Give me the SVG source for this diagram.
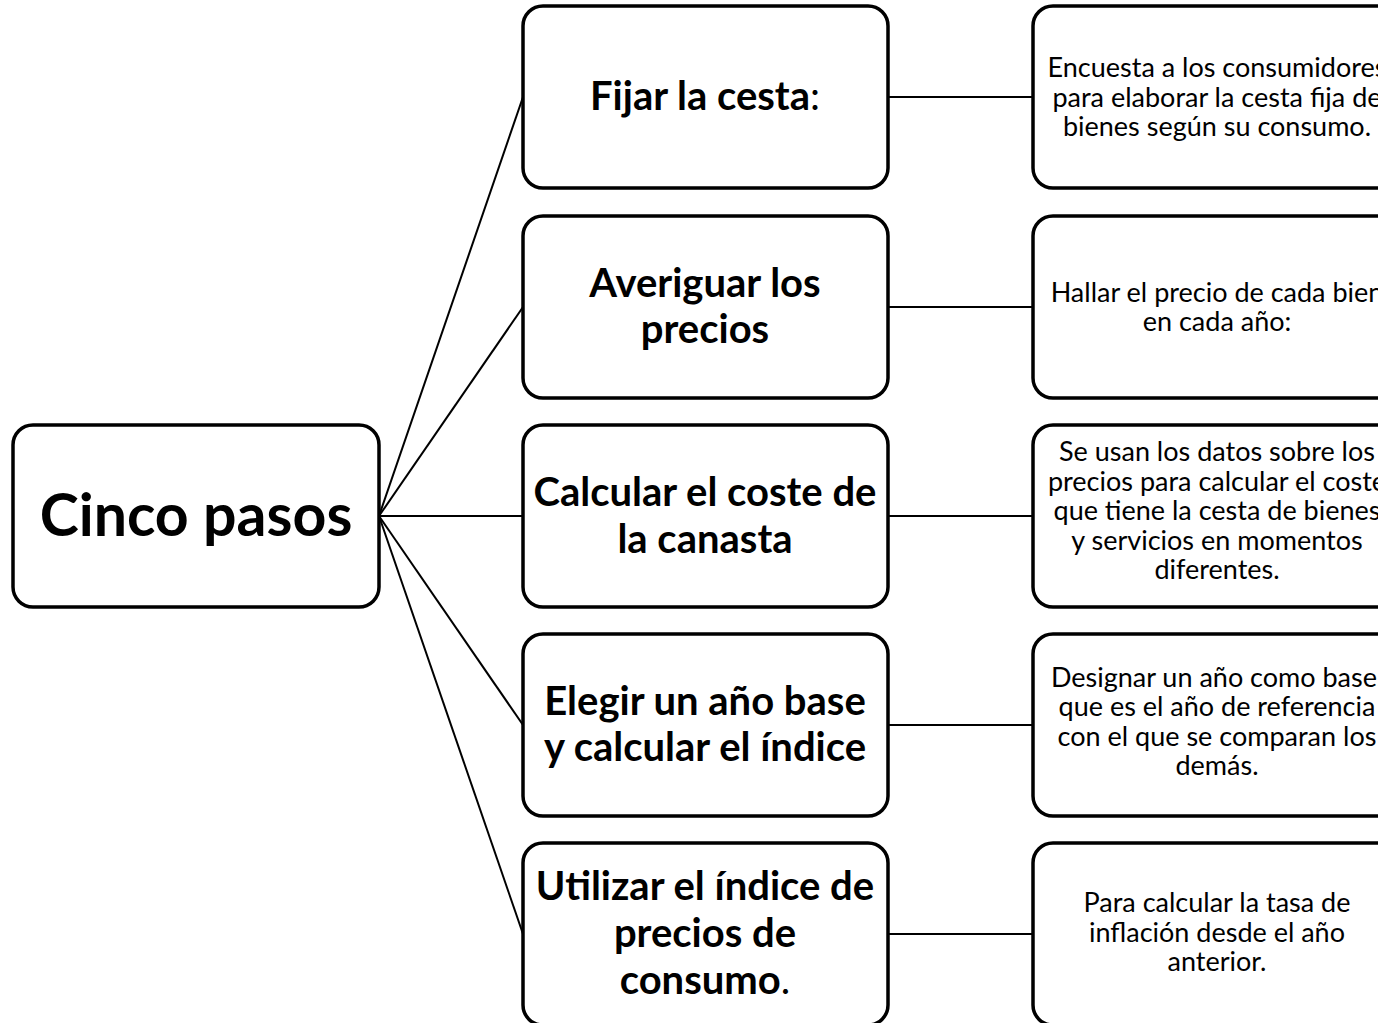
<svg xmlns="http://www.w3.org/2000/svg" width="1378" height="1023" viewBox="0 0 1378 1023">
<style>
.box{fill:#fff;stroke:#000;stroke-width:3.5}
.con{stroke:#000;stroke-width:2;fill:none}
.t{font-family:Lato,"Open Sans","Liberation Sans",sans-serif;text-anchor:middle;fill:#000}
.b{font-weight:bold;font-size:40px}
.r{font-size:27px}
.n{font-weight:normal}
</style>
<rect width="1378" height="1023" fill="#fff"/>
<g id="connectors">
<line class="con" x1="379" y1="516" x2="523" y2="97"/>
<line class="con" x1="379" y1="516" x2="523" y2="307"/>
<line class="con" x1="379" y1="516" x2="523" y2="516"/>
<line class="con" x1="379" y1="516" x2="523" y2="725"/>
<line class="con" x1="379" y1="516" x2="523" y2="934"/>
<line class="con" x1="888" y1="97" x2="1033" y2="97"/>
<line class="con" x1="888" y1="307" x2="1033" y2="307"/>
<line class="con" x1="888" y1="516" x2="1033" y2="516"/>
<line class="con" x1="888" y1="725" x2="1033" y2="725"/>
<line class="con" x1="888" y1="934" x2="1033" y2="934"/>
</g>
<g id="root">
<rect class="box" x="13" y="425" width="366" height="182" rx="20"/>
<text class="t" x="196" y="536" font-size="59" font-weight="bold">Cinco pasos</text>
</g>
<g id="step1">
<rect class="box" x="523" y="6" width="365" height="182" rx="20"/>
<text class="t b" x="705" y="110">Fijar la cesta<tspan class="n">:</tspan></text>
</g>
<g id="step2">
<rect class="box" x="523" y="216" width="365" height="182" rx="20"/>
<text class="t b" x="705" y="297">Averiguar los</text>
<text class="t b" x="705" y="343">precios</text>
</g>
<g id="step3">
<rect class="box" x="523" y="425" width="365" height="182" rx="20"/>
<text class="t b" x="705" y="506">Calcular el coste de</text>
<text class="t b" x="705" y="553">la canasta</text>
</g>
<g id="step4">
<rect class="box" x="523" y="634" width="365" height="182" rx="20"/>
<text class="t b" x="705" y="715">Elegir un año base</text>
<text class="t b" x="705" y="761">y calcular el índice</text>
</g>
<g id="step5">
<rect class="box" x="523" y="843" width="365" height="182" rx="20"/>
<text class="t b" x="705" y="900">Utilizar el índice de</text>
<text class="t b" x="705" y="947">precios de</text>
<text class="t b" x="705" y="994">consumo<tspan class="n">.</tspan></text>
</g>
<g id="desc1">
<rect class="box" x="1033" y="6" width="368" height="182" rx="20"/>
<text class="t r" x="1217" y="77">Encuesta a los consumidores</text>
<text class="t r" x="1217" y="107">para elaborar la cesta fija de</text>
<text class="t r" x="1217" y="136">bienes según su consumo.</text>
</g>
<g id="desc2">
<rect class="box" x="1033" y="216" width="368" height="182" rx="20"/>
<text class="t r" x="1217" y="302">Hallar el precio de cada bien</text>
<text class="t r" x="1217" y="331">en cada año:</text>
</g>
<g id="desc3">
<rect class="box" x="1033" y="425" width="368" height="182" rx="20"/>
<text class="t r" x="1217" y="461">Se usan los datos sobre los</text>
<text class="t r" x="1217" y="491">precios para calcular el coste</text>
<text class="t r" x="1217" y="520">que tiene la cesta de bienes</text>
<text class="t r" x="1217" y="550">y servicios en momentos</text>
<text class="t r" x="1217" y="579">diferentes.</text>
</g>
<g id="desc4">
<rect class="box" x="1033" y="634" width="368" height="182" rx="20"/>
<text class="t r" x="1217" y="687">Designar un año como base,</text>
<text class="t r" x="1217" y="716">que es el año de referencia</text>
<text class="t r" x="1217" y="746">con el que se comparan los</text>
<text class="t r" x="1217" y="775">demás.</text>
</g>
<g id="desc5">
<rect class="box" x="1033" y="843" width="368" height="182" rx="20"/>
<text class="t r" x="1217" y="912">Para calcular la tasa de</text>
<text class="t r" x="1217" y="942">inflación desde el año</text>
<text class="t r" x="1217" y="971">anterior.</text>
</g>
</svg>
